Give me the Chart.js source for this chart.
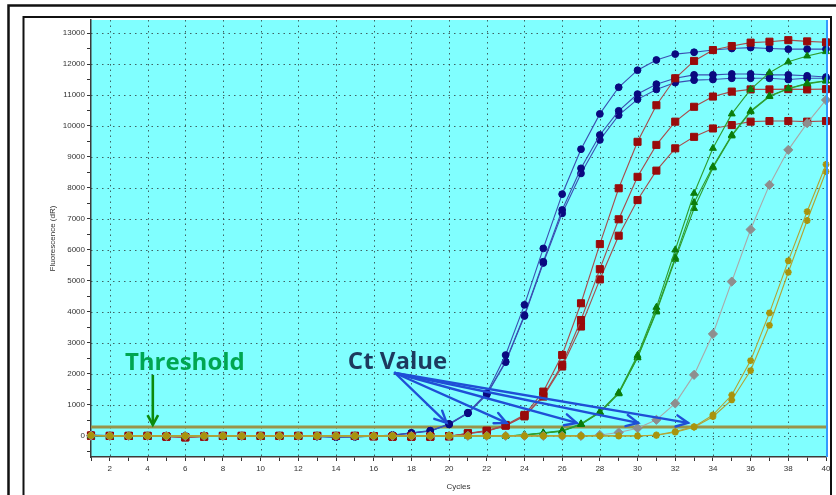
<!DOCTYPE html>
<html>
<head>
<meta charset="utf-8">
<script src="https://cdn.jsdelivr.net/npm/chart.js@4.4.0/dist/chart.umd.min.js"></script>
<style>
  html, body { margin: 0; padding: 0; background: #ffffff; overflow: hidden; }
  #wrap { width: 836px; height: 495px; position: relative; }
</style>
</head>
<body>
<div id="wrap"><canvas id="pcr" width="836" height="495"></canvas></div>
<script>
// Amplification plot: fluorescence (dR) per PCR cycle
const cycles = [1, 2, 3, 4, 5, 6, 7, 8, 9, 10, 11, 12, 13, 14, 15, 16, 17, 18, 19, 20,
                21, 22, 23, 24, 25, 26, 27, 28, 29, 30, 31, 32, 33, 34, 35, 36, 37, 38, 39, 40];

const blue1 = [30, 10, 0, 0, -10, 0, 0, 0, 0, -10, 0, -10, -20, -40, -30, 0, 30, 100, 170, 390,
               750, 1380, 2610, 4230, 6050, 7800, 9250, 10390, 11250, 11800, 12130, 12320, 12380, 12450, 12500, 12530, 12500, 12480, 12480, 12480];
const blue2 = [20, 0, 0, 0, 0, -10, 0, 0, 0, 0, 0, -10, -20, -30, -30, -10, 20, 90, 160, 380,
               740, 1350, 2400, 3900, 5620, 7290, 8635, 9710, 10490, 11030, 11350, 11540, 11650, 11650, 11680, 11680, 11650, 11650, 11620, 11580];
const blue3 = [20, 0, 0, 0, 0, 0, 0, -10, 0, 0, 0, -10, -20, -30, -20, -10, 20, 90, 160, 370,
               730, 1330, 2380, 3870, 5580, 7180, 8470, 9550, 10350, 10860, 11180, 11400, 11480, 11500, 11540, 11540, 11540, 11500, 11540, 11540];

const red1 = [10, 0, 0, 0, -20, -50, -20, 0, 0, 0, 0, 0, 0, 0, 0, -10, -20, -20, -20, -10,
              85, 170, 355, 680, 1430, 2610, 4280, 6190, 7990, 9490, 10670, 11540, 12100, 12450, 12580, 12690, 12720, 12770, 12730, 12700];
const red2 = [10, 0, 0, 0, -20, -40, -20, 0, 0, 0, 0, 0, 0, 0, 0, -10, -20, -20, -20, -10,
              80, 160, 340, 650, 1300, 2300, 3740, 5380, 6990, 8360, 9390, 10140, 10620, 10950, 11110, 11180, 11180, 11190, 11180, 11190];
const red3 = [10, 0, 0, 0, -20, -40, -20, 0, 0, 0, 0, 0, 0, 0, 0, -10, -20, -20, -20, -10,
              75, 150, 330, 630, 1270, 2240, 3530, 5050, 6460, 7610, 8560, 9280, 9650, 9920, 10030, 10140, 10160, 10160, 10140, 10160];

const green1 = [10, 0, 0, 0, 0, 0, 0, 0, 0, 0, 0, 0, 0, 0, 0, 0, 0, 0, 0, 0,
                0, 0, 0, 40, 100, 170, 390, 780, 1400, 2600, 4150, 6000, 7830, 9280, 10390, 11180, 11720, 12070, 12260, 12400];
const green2 = [10, 0, 0, 0, 0, 0, 0, 0, 0, 0, 0, 0, 0, 0, 0, 0, 0, 0, 0, 0,
                0, 0, 0, 30, 90, 160, 380, 760, 1380, 2540, 4040, 5760, 7530, 8690, 9710, 10490, 10970, 11210, 11380, 11460];
const green3 = [10, 0, 0, 0, 0, 0, 0, 0, 0, 0, 0, 0, 0, 0, 0, 0, 0, 0, 0, 0,
                0, 0, 0, 30, 90, 150, 370, 750, 1360, 2520, 4000, 5700, 7340, 8650, 9680, 10460, 10950, 11200, 11360, 11450];

const gray1 = [10, 0, 0, 0, 0, 0, 0, 0, 0, 0, 0, 0, 0, 0, 0, 0, 0, 0, 0, 0,
               0, 0, 0, 0, 0, 0, 0, 30, 110, 250, 520, 1050, 1970, 3290, 4980, 6660, 8100, 9230, 10090, 10840];

const olive1 = [20, 0, 0, 0, 0, 0, 0, 0, 0, 0, 0, 0, 0, 0, 0, 0, 0, 0, 0, 0,
                0, 0, 0, 0, 0, 0, 0, 0, 0, 0, 30, 140, 300, 680, 1320, 2430, 3970, 5650, 7240, 8760];
const olive2 = [20, 0, 0, 0, 0, 0, 0, 0, 0, 0, 0, 0, 0, 0, 0, 0, 0, 0, 0, 0,
                0, 0, 0, 0, 0, 0, 0, 0, 0, 0, 20, 120, 280, 620, 1160, 2110, 3570, 5280, 6950, 8530];

const thresholdValue = 290;

// axis ticks (major + minor) and dotted grid positions
const yTicks = [-500, 0, 500, 1000, 1500, 2000, 2500, 3000, 3500, 4000, 4500, 5000, 5500, 6000, 6500,
                7000, 7500, 8000, 8500, 9000, 9500, 10000, 10500, 11000, 11500, 12000, 12500, 13000];
const gridCycles = [2, 4, 6, 8, 10, 12, 14, 16, 18, 20, 22, 24, 26, 28, 30, 32, 34, 36, 38];
const gridValues = [0, 1000, 2000, 3000, 4000, 5000, 6000, 7000, 8000, 9000, 10000, 11000, 12000, 13000];

// Ct call-outs (cycle where each group crosses the threshold)
const ctCycles = [19.87, 23.05, 26.77, 30.03, 32.68];
const ctTipValue = 420;
const ctOrigin = { x: 17.13, y: 2030 };
const ctLabel = { text: 'Ct Value', x: 14.63, y: 2145 };
const thresholdLabel = { text: 'Threshold', x: 2.8, y: 2130 };
const thresholdArrow = { x: 4.28, from: 1970, to: 360 };

const toXY = vals => cycles.map((c, i) => ({ x: c, y: vals[i] }));

function series(vals, marker, line, style, radius, order) {
  return {
    data: toXY(vals),
    borderColor: line,
    borderWidth: 1.1,
    backgroundColor: marker,
    pointBackgroundColor: marker,
    pointBorderColor: marker,
    pointBorderWidth: style === 'star' ? 2 : 1,
    pointStyle: style,
    pointRadius: radius,
    tension: 0,
    clip: false,
    order: order
  };
}

const datasets = [
  series(olive1, '#a8940c', '#b3a332', 'star', 3.4, 1),
  series(olive2, '#a8940c', '#b3a332', 'star', 3.4, 1),
  series(gray1, '#8e8e8e', '#a9a9a9', 'rectRot', 4.6, 2),
  series(green1, '#0b7d0b', '#2e9e2e', 'triangle', 4, 3),
  series(green2, '#0b7d0b', '#2e9e2e', 'triangle', 4, 3),
  series(green3, '#0b7d0b', '#2e9e2e', 'triangle', 4, 3),
  series(red1, '#990b0b', '#a84c4c', 'rect', 5, 4),
  series(red2, '#990b0b', '#a84c4c', 'rect', 5, 4),
  series(red3, '#990b0b', '#a84c4c', 'rect', 5, 4),
  series(blue1, '#0a0a80', '#3a4fb2', 'circle', 3.4, 5),
  series(blue2, '#0a0a80', '#3a4fb2', 'circle', 3.4, 5),
  series(blue3, '#0a0a80', '#3a4fb2', 'circle', 3.4, 5),
  {
    data: [{ x: cycles[0], y: thresholdValue }, { x: cycles[cycles.length - 1], y: thresholdValue }],
    borderColor: '#99944a',
    borderWidth: 3,
    pointRadius: 0,
    clip: false,
    order: 9
  }
];

function arrowHead(ctx, x1, y1, x2, y2, len, ang) {
  const a = Math.atan2(y2 - y1, x2 - x1);
  ctx.beginPath();
  ctx.moveTo(x2 - len * Math.cos(a - ang), y2 - len * Math.sin(a - ang));
  ctx.lineTo(x2, y2);
  ctx.lineTo(x2 - len * Math.cos(a + ang), y2 - len * Math.sin(a + ang));
  ctx.stroke();
}

const decor = {
  id: 'decor',
  beforeDraw(chart) {
    const { ctx, chartArea: a } = chart;
    ctx.save();
    ctx.fillStyle = '#ffffff';
    ctx.fillRect(0, 0, chart.width, chart.height);
    ctx.fillStyle = '#80ffff';
    ctx.fillRect(a.left, a.top, a.right - a.left, a.bottom - a.top);
    ctx.restore();
  },
  beforeDatasetsDraw(chart) {
    const { ctx, chartArea: a, scales: { x, y } } = chart;
    ctx.save();
    ctx.strokeStyle = 'rgba(45,60,60,0.8)';
    ctx.lineWidth = 1;
    ctx.setLineDash([1.5, 4]);
    gridCycles.forEach(c => {
      const px = Math.round(x.getPixelForValue(c)) + 0.5;
      ctx.beginPath(); ctx.moveTo(px, a.top); ctx.lineTo(px, a.bottom); ctx.stroke();
    });
    gridValues.forEach(v => {
      const py = Math.round(y.getPixelForValue(v)) + 0.5;
      ctx.beginPath(); ctx.moveTo(a.left, py); ctx.lineTo(a.right, py); ctx.stroke();
    });
    ctx.restore();
  },
  afterDraw(chart) {
    const { ctx, chartArea: a, scales: { x, y } } = chart;
    ctx.save();

    // right edge of the plot
    ctx.strokeStyle = '#3399ff';
    ctx.lineWidth = 2;
    ctx.beginPath(); ctx.moveTo(a.right + 1, a.top); ctx.lineTo(a.right + 1, a.bottom); ctx.stroke();

    // window frames
    ctx.strokeStyle = '#111111';
    ctx.lineWidth = 2.5;
    ctx.beginPath();
    ctx.moveTo(8.5, chart.height); ctx.lineTo(8.5, 5.5); ctx.lineTo(chart.width, 5.5);
    ctx.stroke();
    ctx.lineWidth = 2;
    ctx.beginPath();
    ctx.moveTo(23.5, chart.height); ctx.lineTo(23.5, 17); ctx.lineTo(831, 17); ctx.lineTo(831, chart.height);
    ctx.stroke();

    // threshold call-out
    ctx.font = 'bold 24px "Open Sans"';
    ctx.textBaseline = 'alphabetic';
    ctx.fillStyle = '#00a651';
    ctx.fillText(thresholdLabel.text, x.getPixelForValue(thresholdLabel.x), y.getPixelForValue(thresholdLabel.y));
    const tx = x.getPixelForValue(thresholdArrow.x);
    const ty1 = y.getPixelForValue(thresholdArrow.from);
    const ty2 = y.getPixelForValue(thresholdArrow.to);
    ctx.strokeStyle = '#0c8a0c';
    ctx.lineWidth = 2.6;
    ctx.beginPath(); ctx.moveTo(tx, ty1); ctx.lineTo(tx, ty2); ctx.stroke();
    arrowHead(ctx, tx, ty1, tx, ty2, 11, 0.5);

    // Ct value call-out
    ctx.fillStyle = '#1d3a5e';
    ctx.fillText(ctLabel.text, x.getPixelForValue(ctLabel.x), y.getPixelForValue(ctLabel.y));
    const ox = x.getPixelForValue(ctOrigin.x);
    const oy = y.getPixelForValue(ctOrigin.y);
    ctx.strokeStyle = '#1f4fd6';
    ctx.lineWidth = 2.4;
    ctx.lineCap = 'round';
    ctCycles.forEach(c => {
      const ex = x.getPixelForValue(c);
      const ey = y.getPixelForValue(ctTipValue);
      ctx.beginPath(); ctx.moveTo(ox, oy); ctx.lineTo(ex, ey); ctx.stroke();
      arrowHead(ctx, ox, oy, ex, ey, 13, 0.45);
    });
    ctx.restore();
  }
};

const tickFont = { family: '"Liberation Sans", Arial, sans-serif', size: 8 };

new Chart(document.getElementById('pcr'), {
  type: 'line',
  data: { datasets: datasets },
  options: {
    responsive: false,
    animation: false,
    devicePixelRatio: 1,
    events: [],
    layout: { padding: { left: 0, top: 20, right: 10, bottom: 0 } },
    plugins: { legend: { display: false }, tooltip: { enabled: false } },
    scales: {
      x: {
        type: 'linear',
        min: 1,
        max: 40,
        afterFit: s => { s.height = 38; },
        afterBuildTicks: s => { s.ticks = cycles.map(v => ({ value: v })); },
        ticks: {
          autoSkip: false,
          maxRotation: 0,
          padding: 3,
          color: '#333333',
          font: tickFont,
          callback: v => (Math.round(v) % 2 === 0 ? String(Math.round(v)) : '')
        },
        grid: { drawOnChartArea: false, drawTicks: true, tickLength: 4, tickColor: '#333333', tickWidth: 1 },
        border: { display: true, color: '#3a3a3a', width: 1.5 },
        title: { display: true, text: 'Cycles', color: '#333333', font: tickFont, padding: { top: 0, bottom: 3 } }
      },
      y: {
        type: 'linear',
        min: -680,
        max: 13420,
        afterFit: s => { s.width = 91; },
        afterBuildTicks: s => { s.ticks = yTicks.map(v => ({ value: v })); },
        ticks: {
          autoSkip: false,
          padding: 2,
          color: '#333333',
          font: tickFont,
          callback: v => (Math.round(v) % 1000 === 0 ? String(Math.round(v)) : '')
        },
        grid: { drawOnChartArea: false, drawTicks: true, tickLength: 4, tickColor: '#333333', tickWidth: 1 },
        border: { display: true, color: '#3a3a3a', width: 1.5 },
        title: { display: true, text: 'Fluorescence (dR)', color: '#333333', font: tickFont, padding: { top: 48, bottom: 0 } }
      }
    }
  },
  plugins: [decor]
});
</script>
</body>
</html>
